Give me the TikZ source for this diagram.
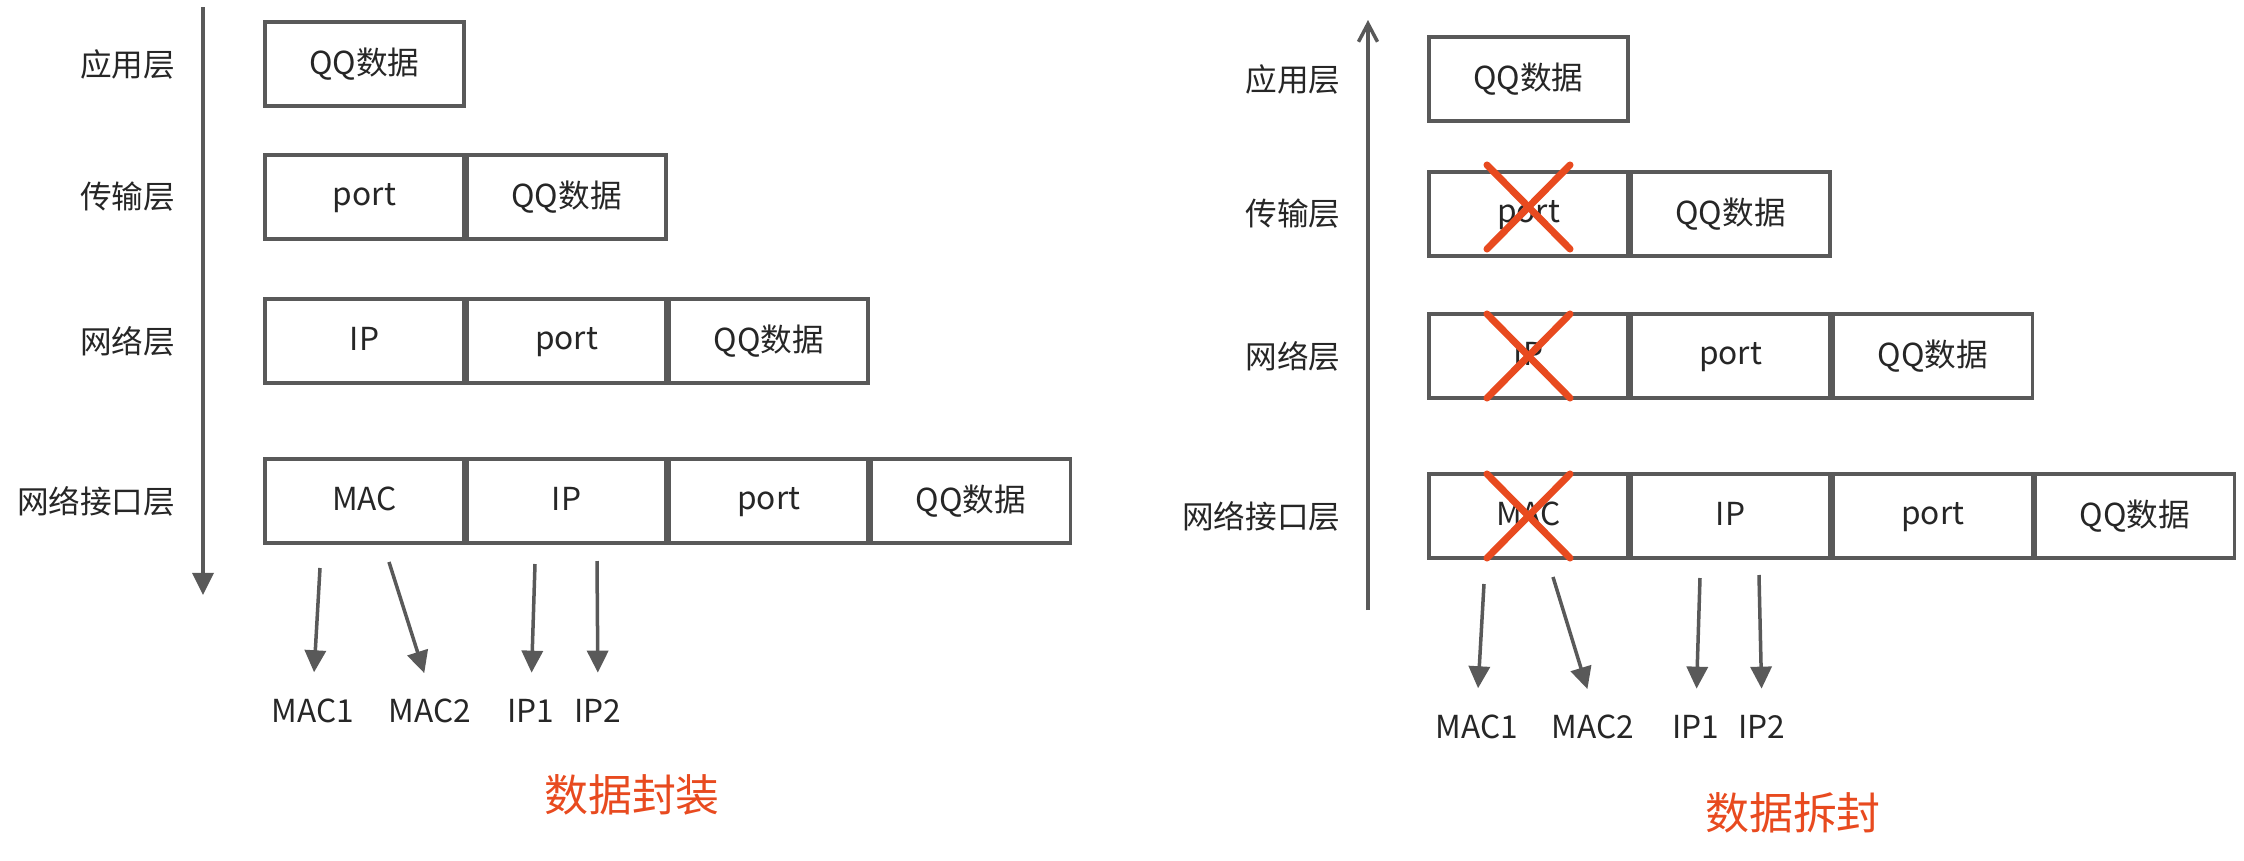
\documentclass[tikz,border=0pt]{standalone}
\usepackage{fontspec}
\setmainfont{Noto Sans CJK SC}
\usetikzlibrary{positioning,arrows.meta}
\definecolor{LineGray}{HTML}{595959}
\definecolor{TextInk}{HTML}{262626}
\definecolor{MarkRed}{HTML}{E84A1F}

\tikzset{
  seg/.style={draw=LineGray,line width=0.036cm,minimum width=1.99cm,minimum height=0.84cm,
    inner sep=0pt,outer sep=0pt,text=TextInk,text depth=0.05cm},
  layer/.style={anchor=east,text=TextInk,inner sep=0pt},
  addr/.style={text=TextInk,inner sep=2pt},
  pick/.style={draw=LineGray,line width=0.035cm,-{Triangle[length=0.22cm,width=0.21cm]},shorten >=0.19cm},
  cross/.style={draw=MarkRed,line width=0.07cm,line cap=round},
  title/.style={text=MarkRed,font=\fontsize{12.5}{15}\selectfont}
}

\begin{document}
\begin{tikzpicture}[x=0.01cm,y=-0.01cm,font=\fontsize{9}{11}\selectfont]
  \useasboundingbox (0,0) rectangle (2244,860);

  % encapsulation (left)
  \coordinate (ltop) at (203,7);
  \coordinate (lbot) at (203,595);
  \draw[LineGray,line width=0.035cm,-{Triangle[length=0.22cm,width=0.21cm]}] (ltop) -- (lbot);

  \node[layer] (la1) at (176,64) {应用层};
  \node[layer] (la2) at (176,197) {传输层};
  \node[layer] (la3) at (176,341) {网络层};
  \node[layer] (la4) at (176,501) {网络接口层};

  \node[seg] (a1a) at (364.5,64) {QQ数据};

  \node[seg] (a2a) at (364.5,197) {port};
  \node[seg,right=0.03cm of a2a] (a2b) {QQ数据};

  \node[seg] (a3a) at (364.5,341) {IP};
  \node[seg,right=0.03cm of a3a] (a3b) {port};
  \node[seg,right=0.03cm of a3b] (a3c) {QQ数据};

  \node[seg] (a4a) at (364.5,501) {MAC};
  \node[seg,right=0.03cm of a4a] (a4b) {IP};
  \node[seg,right=0.03cm of a4b] (a4c) {port};
  \node[seg,right=0.03cm of a4c] (a4d) {QQ数据};

  \coordinate (ls1) at (320,568);
  \coordinate (ls2) at (389,562);
  \coordinate (ls3) at (535,564);
  \coordinate (ls4) at (597,561);
  \node[addr] (lm1) at (313,711) {MAC1};
  \node[addr] (lm2) at (430,711) {MAC2};
  \node[addr] (lm3) at (531,711) {IP1};
  \node[addr] (lm4) at (598,711) {IP2};
  \draw[pick] (ls1) -- (lm1.north);
  \draw[pick] (ls2) -- (lm2.north);
  \draw[pick] (ls3) -- (lm3.north);
  \draw[pick] (ls4) -- (lm4.north);

  \node[title] (lt) at (632,795) {数据封装};

  % decapsulation (right)
  \coordinate (rbot) at (1368,610);
  \coordinate (rtop) at (1368,20);
  \draw[LineGray,line width=0.035cm,-{Straight Barb[length=0.18cm,width=0.19cm]}] (rbot) -- (rtop);

  \node[layer] (ra1) at (1341,79) {应用层};
  \node[layer] (ra2) at (1341,214) {传输层};
  \node[layer] (ra3) at (1341,356) {网络层};
  \node[layer] (ra4) at (1341,516) {网络接口层};

  \node[seg] (c1a) at (1528.5,79) {QQ数据};

  \node[seg] (c2a) at (1528.5,214) {port};
  \node[seg,right=0.03cm of c2a] (c2b) {QQ数据};

  \node[seg] (c3a) at (1528.5,356) {IP};
  \node[seg,right=0.03cm of c3a] (c3b) {port};
  \node[seg,right=0.03cm of c3b] (c3c) {QQ数据};

  \node[seg] (c4a) at (1528.5,516) {MAC};
  \node[seg,right=0.03cm of c4a] (c4b) {IP};
  \node[seg,right=0.03cm of c4b] (c4c) {port};
  \node[seg,right=0.03cm of c4c] (c4d) {QQ数据};

  % stripped headers
  \foreach \n/\s in {c2a/0.07cm,c3a/0cm,c4a/0cm}{
    \draw[cross] ([xshift=-0.415cm,yshift=\s]\n.north) -- ([xshift=0.415cm,yshift=\s]\n.south);
    \draw[cross] ([xshift=0.415cm,yshift=\s]\n.north) -- ([xshift=-0.415cm,yshift=\s]\n.south);
  }

  \coordinate (rs1) at (1484,584);
  \coordinate (rs2) at (1553,577);
  \coordinate (rs3) at (1700,578);
  \coordinate (rs4) at (1759,575);
  \node[addr] (rm1) at (1477,727) {MAC1};
  \node[addr] (rm2) at (1593,727) {MAC2};
  \node[addr] (rm3) at (1696,727) {IP1};
  \node[addr] (rm4) at (1762,727) {IP2};
  \draw[pick] (rs1) -- (rm1.north);
  \draw[pick] (rs2) -- (rm2.north);
  \draw[pick] (rs3) -- (rm3.north);
  \draw[pick] (rs4) -- (rm4.north);

  \node[title] (rt) at (1793,813) {数据拆封};
\end{tikzpicture}
\end{document}
